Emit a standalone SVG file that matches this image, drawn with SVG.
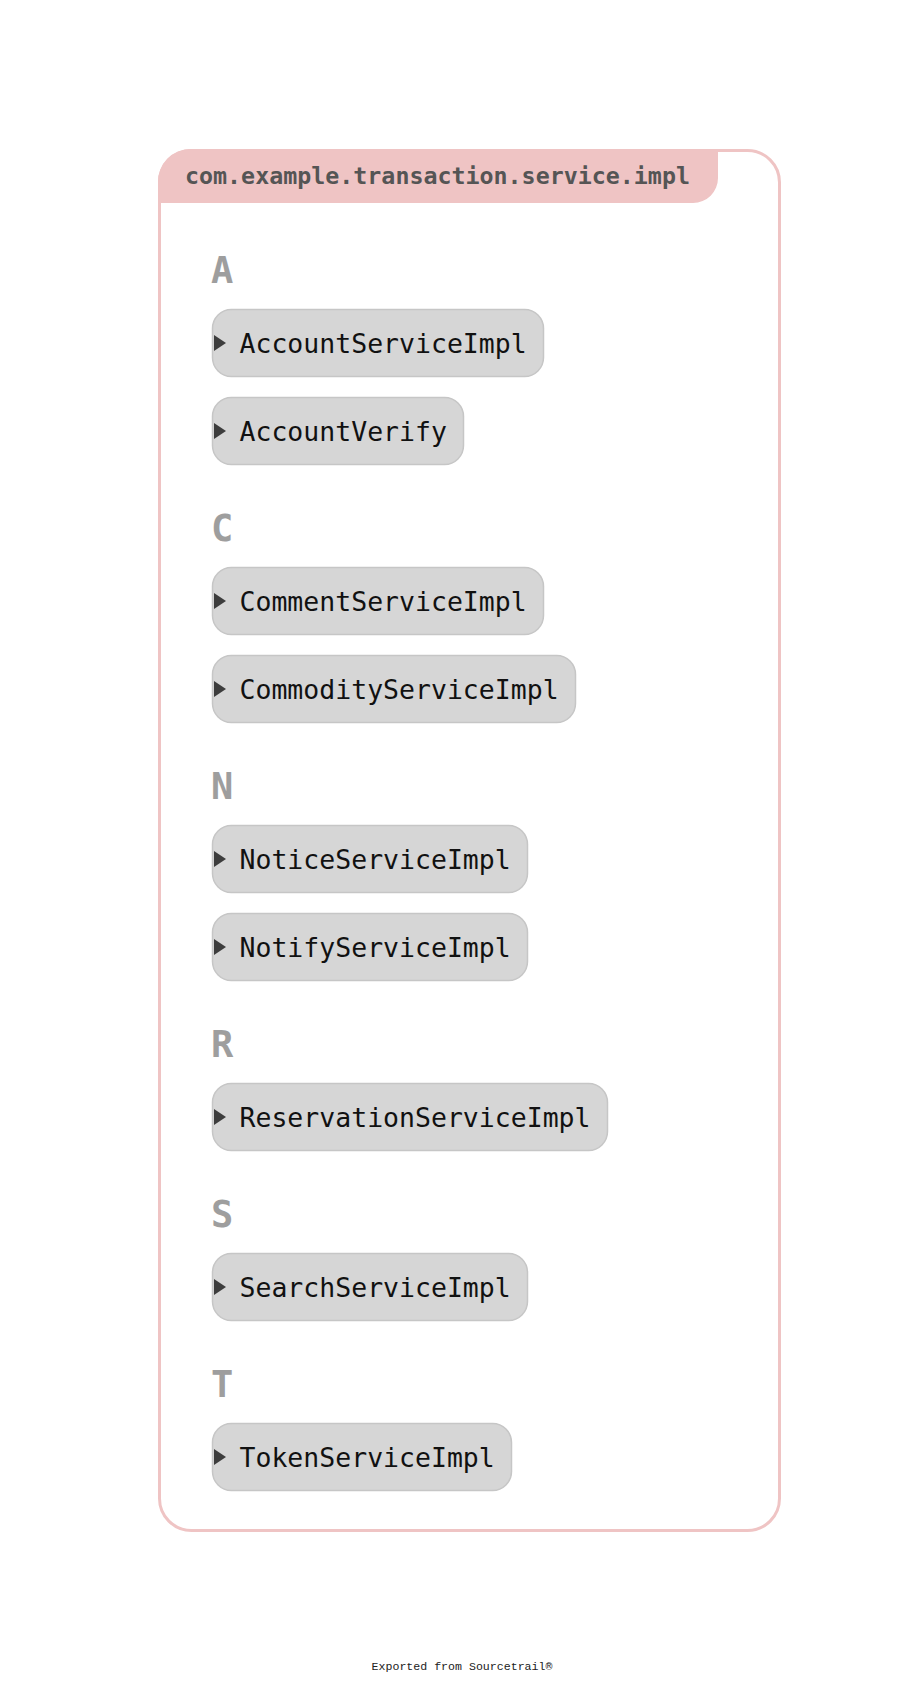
<svg xmlns="http://www.w3.org/2000/svg" width="920" height="1682" viewBox="0 0 920 1682">
<style>
.box{fill:#ffffff;stroke:#efc4c4;stroke-width:3}
.hdr{fill:#efc4c4}
.hdrtxt{font-family:"DejaVu Sans Mono","Liberation Mono",monospace;font-weight:bold;font-size:23.3px;fill:#555555}
.letter{font-family:"DejaVu Sans Mono","Liberation Mono",monospace;font-weight:bold;font-size:37px;fill:#9e9e9e}
.node rect{fill:#d6d6d6;stroke:#c6c6c6;stroke-width:1.5}
.node polygon{fill:#3d3d3d}
.node text{font-family:"DejaVu Sans Mono","Liberation Mono",monospace;font-size:26.5px;fill:#111111}
.foot{font-family:"Liberation Mono","DejaVu Sans Mono",monospace;font-size:11.6px;fill:#222222}
</style>
<rect width="920" height="1682" fill="#ffffff"/>
<g id="package">
<rect class="box" x="159.5" y="150.5" width="620" height="1380" rx="32" ry="32"/>
<path class="hdr" d="M158,203 V182.5 A32.5,32.5 0 0 1 190.5,149 H718 V178 A25,25 0 0 1 693,203 Z"/>
<text class="hdrtxt" x="185" y="184">com.example.transaction.service.impl</text>
</g>
<g id="letters">
<text class="letter" x="211" y="283">A</text>
<text class="letter" x="211" y="541">C</text>
<text class="letter" x="211" y="799">N</text>
<text class="letter" x="211" y="1057">R</text>
<text class="letter" x="211" y="1227">S</text>
<text class="letter" x="211" y="1397">T</text>
</g>
<g id="connectors"></g>
<g id="AccountServiceImpl" class="node" transform="translate(0,309.5)">
<rect x="212.5" y="0" width="331" height="67" rx="19"/>
<polygon points="214,25.5 226,33.5 214,41.5"/>
<text x="239.5" y="43">AccountServiceImpl</text>
</g>
<g id="AccountVerify" class="node" transform="translate(0,397.5)">
<rect x="212.5" y="0" width="251" height="67" rx="19"/>
<polygon points="214,25.5 226,33.5 214,41.5"/>
<text x="239.5" y="43">AccountVerify</text>
</g>
<g id="CommentServiceImpl" class="node" transform="translate(0,567.5)">
<rect x="212.5" y="0" width="331" height="67" rx="19"/>
<polygon points="214,25.5 226,33.5 214,41.5"/>
<text x="239.5" y="43">CommentServiceImpl</text>
</g>
<g id="CommodityServiceImpl" class="node" transform="translate(0,655.5)">
<rect x="212.5" y="0" width="363" height="67" rx="19"/>
<polygon points="214,25.5 226,33.5 214,41.5"/>
<text x="239.5" y="43">CommodityServiceImpl</text>
</g>
<g id="NoticeServiceImpl" class="node" transform="translate(0,825.5)">
<rect x="212.5" y="0" width="315" height="67" rx="19"/>
<polygon points="214,25.5 226,33.5 214,41.5"/>
<text x="239.5" y="43">NoticeServiceImpl</text>
</g>
<g id="NotifyServiceImpl" class="node" transform="translate(0,913.5)">
<rect x="212.5" y="0" width="315" height="67" rx="19"/>
<polygon points="214,25.5 226,33.5 214,41.5"/>
<text x="239.5" y="43">NotifyServiceImpl</text>
</g>
<g id="ReservationServiceImpl" class="node" transform="translate(0,1083.5)">
<rect x="212.5" y="0" width="395" height="67" rx="19"/>
<polygon points="214,25.5 226,33.5 214,41.5"/>
<text x="239.5" y="43">ReservationServiceImpl</text>
</g>
<g id="SearchServiceImpl" class="node" transform="translate(0,1253.5)">
<rect x="212.5" y="0" width="315" height="67" rx="19"/>
<polygon points="214,25.5 226,33.5 214,41.5"/>
<text x="239.5" y="43">SearchServiceImpl</text>
</g>
<g id="TokenServiceImpl" class="node" transform="translate(0,1423.5)">
<rect x="212.5" y="0" width="299" height="67" rx="19"/>
<polygon points="214,25.5 226,33.5 214,41.5"/>
<text x="239.5" y="43">TokenServiceImpl</text>
</g>
<text class="foot" x="462" y="1670" text-anchor="middle">Exported from Sourcetrail®</text>
</svg>
